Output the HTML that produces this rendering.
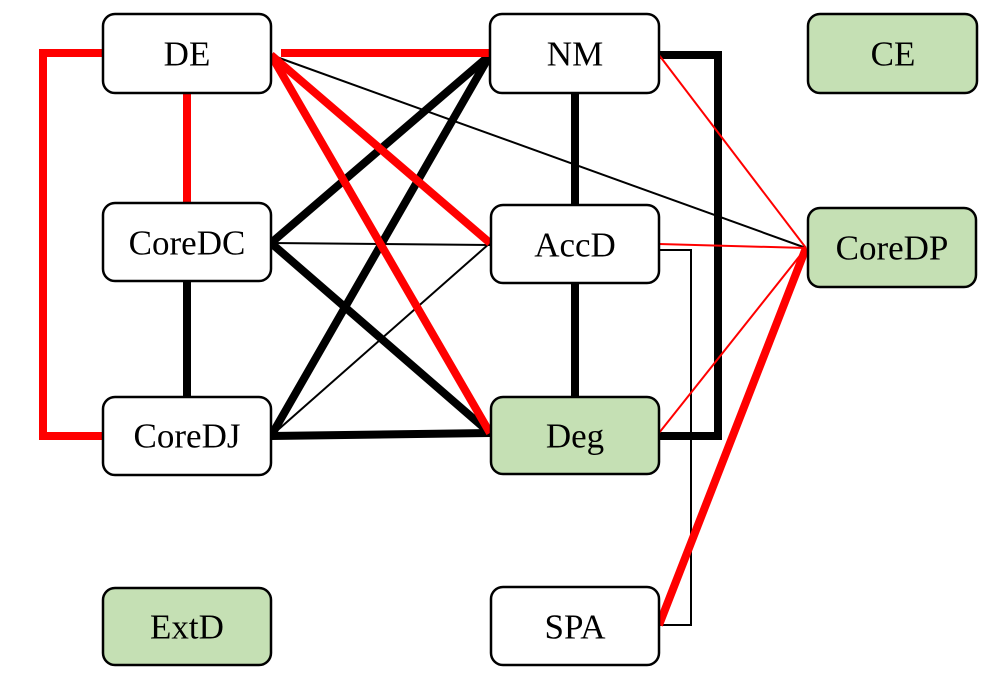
<!DOCTYPE html>
<html><head><style>
body{margin:0;background:#fff}
svg text{font-family:"Liberation Serif",serif;font-size:35px;text-anchor:middle;dominant-baseline:central}
</style></head><body>
<svg width="997" height="690" viewBox="0 0 997 690" xmlns="http://www.w3.org/2000/svg">
<g fill="none" stroke-linejoin="miter">
<polyline points="103,53 43,53 43,436 103,436" stroke="#f00" stroke-width="8"/>
<line x1="187" y1="93" x2="187" y2="203" stroke="#f00" stroke-width="8"/>
<line x1="187" y1="281" x2="187" y2="397" stroke="#000" stroke-width="8"/>
<line x1="575" y1="93" x2="575" y2="205" stroke="#000" stroke-width="8"/>
<line x1="575" y1="283" x2="575" y2="397" stroke="#000" stroke-width="8"/>
<polyline points="659,436 718,436 718,55 659,55" stroke="#000" stroke-width="8"/>
<polyline points="659,250 691,250 691,625 659,625" stroke="#000" stroke-width="2"/>
<line x1="271" y1="55" x2="806" y2="248" stroke="#000" stroke-width="2"/>
<line x1="271" y1="243" x2="490" y2="245" stroke="#000" stroke-width="2"/>
<line x1="271" y1="436" x2="490" y2="243" stroke="#000" stroke-width="2"/>
<line x1="271" y1="243" x2="490" y2="55" stroke="#000" stroke-width="8"/>
<line x1="271" y1="436" x2="490" y2="55" stroke="#000" stroke-width="8"/>
<line x1="271" y1="243" x2="490" y2="433" stroke="#000" stroke-width="8"/>
<line x1="271" y1="436" x2="490" y2="433" stroke="#000" stroke-width="8"/>
<line x1="281" y1="53" x2="490" y2="53" stroke="#f00" stroke-width="8"/>
<line x1="271" y1="55" x2="490" y2="243" stroke="#f00" stroke-width="8"/>
<line x1="271" y1="55" x2="490" y2="433" stroke="#f00" stroke-width="8"/>
<line x1="659" y1="55" x2="806" y2="248" stroke="#f00" stroke-width="2"/>
<line x1="659" y1="244" x2="806" y2="248" stroke="#f00" stroke-width="2"/>
<line x1="659" y1="433" x2="806" y2="248" stroke="#f00" stroke-width="2"/>
<line x1="659" y1="625" x2="806" y2="248" stroke="#f00" stroke-width="8"/>
</g>
<g stroke="#000" stroke-width="2.5">
<rect x="103" y="14" width="168" height="79" rx="12" fill="#fff"/>
<rect x="490" y="14" width="169" height="79" rx="12" fill="#fff"/>
<rect x="808" y="14" width="169" height="79" rx="12" fill="#c5e0b4"/>
<rect x="103" y="203" width="168" height="78" rx="12" fill="#fff"/>
<rect x="491" y="205" width="168" height="78" rx="12" fill="#fff"/>
<rect x="808" y="208" width="168" height="79" rx="12" fill="#c5e0b4"/>
<rect x="103" y="397" width="168" height="78" rx="12" fill="#fff"/>
<rect x="491" y="397" width="168" height="77" rx="12" fill="#c5e0b4"/>
<rect x="103" y="588" width="168" height="77" rx="12" fill="#c5e0b4"/>
<rect x="491" y="587" width="168" height="78" rx="12" fill="#fff"/>
</g>
<text x="187" y="54">DE</text>
<text x="575" y="54">NM</text>
<text x="893" y="54">CE</text>
<text x="187" y="243">CoreDC</text>
<text x="575" y="245">AccD</text>
<text x="892" y="248">CoreDP</text>
<text x="187" y="436">CoreDJ</text>
<text x="575" y="436">Deg</text>
<text x="187" y="627">ExtD</text>
<text x="575" y="627">SPA</text>
</svg>
</body></html>
